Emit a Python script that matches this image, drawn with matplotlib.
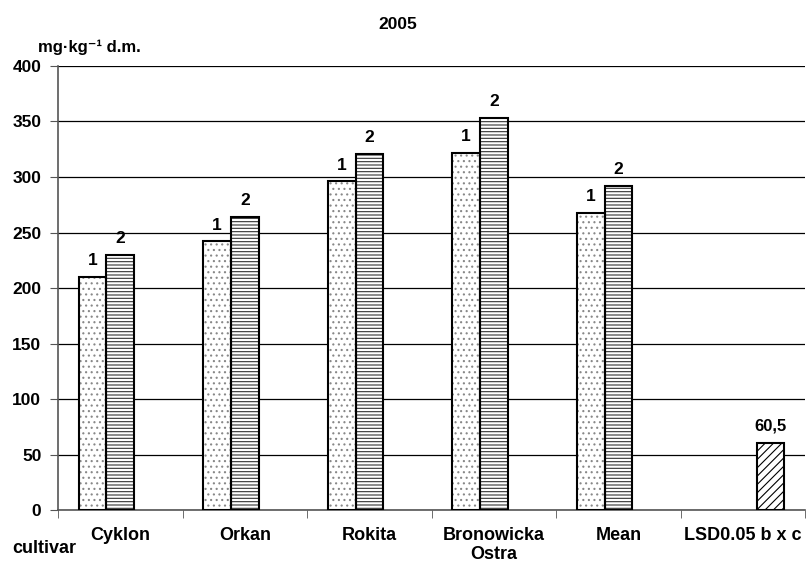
import matplotlib.pyplot as plt
import numpy as np

plt.rcParams['font.family'] = ['Liberation Sans', 'DejaVu Sans']
plt.rcParams['font.weight'] = 'bold'
plt.rcParams['hatch.linewidth'] = 0.8

# data
cultivars = ['Cyklon', 'Orkan', 'Rokita', 'Bronowicka\nOstra', 'Mean', 'LSD0.05 b x c']
series1 = [210, 242, 296, 322, 267.5, np.nan]
series2 = [230, 264, 321, 353, 292, np.nan]
lsd = [np.nan, np.nan, np.nan, np.nan, np.nan, 60.5]
lsd_label = '60,5'

fig = plt.figure(figsize=(8.06, 5.65), dpi=100)
ax = fig.add_axes([0.072, 0.0973, 0.927, 0.7859])

x = np.arange(len(cultivars))
w = 1 / 4.5

# hatched fills first, black outlines on top
ax.bar(x - w, series1, w, facecolor='white', edgecolor='#888888',
       linewidth=0, hatch='...', zorder=3)
ax.bar(x - w, series1, w, fill=False, edgecolor='black', linewidth=1.5, zorder=4)
ax.bar(x, series2, w, facecolor='white', edgecolor='#333333',
       linewidth=0, hatch='-----', zorder=3)
ax.bar(x, series2, w, fill=False, edgecolor='black', linewidth=1.5, zorder=4)
ax.bar(x + w, lsd, w, facecolor='white', edgecolor='black',
       linewidth=1.5, hatch='////', zorder=3)

# bar labels
for i in range(5):
    ax.text(x[i] - w, series1[i] + 8, '1', ha='center', va='bottom',
            fontsize=12.5, fontweight='bold')
    ax.text(x[i], series2[i] + 8, '2', ha='center', va='bottom',
            fontsize=12.5, fontweight='bold')
ax.text(x[5] + w, lsd[5] + 8, lsd_label, ha='center', va='bottom',
        fontsize=12, fontweight='bold')

ax.set_xlim(-0.5, 5.5)
ax.set_ylim(0, 400)
ax.set_yticks(np.arange(0, 401, 50))
ax.yaxis.grid(True, color='black', linewidth=0.9, zorder=0)
ax.set_axisbelow(True)

ax.set_xticks(x)
ax.set_xticklabels(cultivars, fontsize=13, fontweight='bold', linespacing=1.2)
ax.set_xticks(np.arange(-0.5, 5.6, 1), minor=True)
ax.tick_params(axis='x', which='major', length=0, pad=12)
ax.tick_params(axis='x', which='minor', length=6, color='#555555')
ax.tick_params(axis='y', length=6, color='#555555', labelsize=12.5, pad=6)
for lab in ax.get_yticklabels():
    lab.set_fontweight('bold')

ax.spines['top'].set_visible(False)
ax.spines['right'].set_visible(False)
ax.spines['left'].set_color('#555555')
ax.spines['bottom'].set_color('#555555')
ax.spines['left'].set_linewidth(1.2)
ax.spines['bottom'].set_linewidth(1.2)

fig.text(0.494, 0.957, '2005', ha='center', va='center', fontsize=12.5, fontweight='bold')
fig.text(0.047, 0.917, 'mg·kg⁻¹ d.m.', ha='left', va='center',
         fontsize=12, fontweight='bold')
fig.text(0.015, 0.03, 'cultivar', ha='left', va='center', fontsize=13, fontweight='bold')

fig.savefig('out.png', dpi=100)
